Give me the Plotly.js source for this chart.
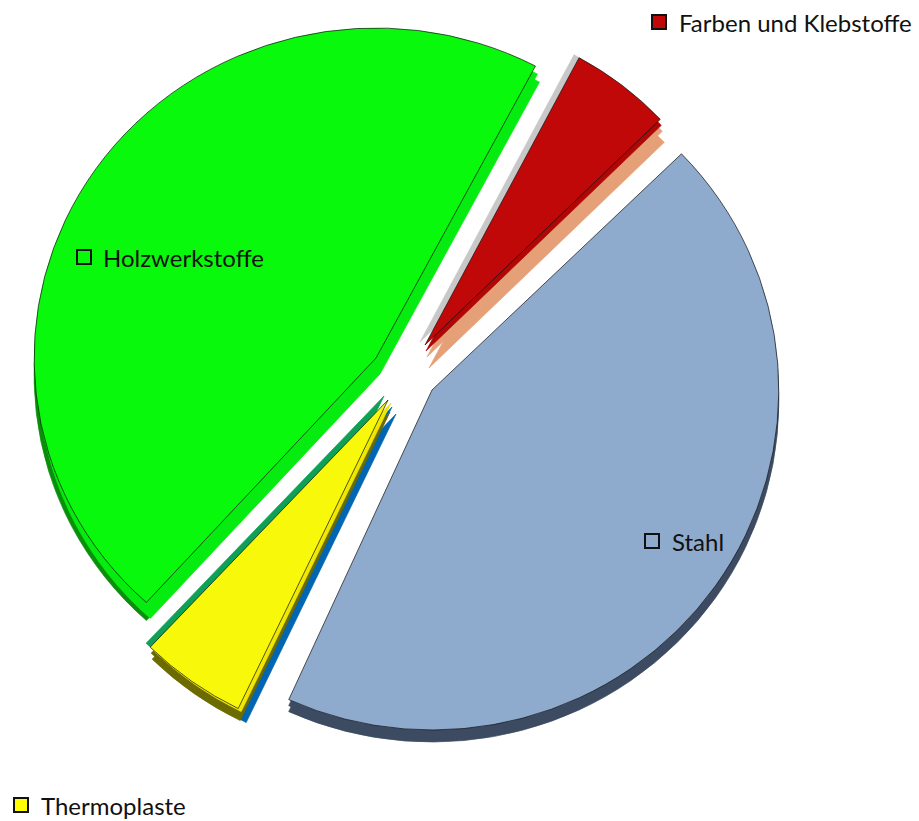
<!DOCTYPE html>
<html><head><meta charset="utf-8">
<script src="https://cdn.plot.ly/plotly-3.0.1.min.js"></script>
<style>html,body{margin:0;padding:0;background:#fff}#c{width:919px;height:821px}</style>
</head><body><div id="c"></div>
<script>
var categories = ['Farben und Klebstoffe','Stahl','Thermoplaste','Holzwerkstoffe'];
var values = [5,44,5,46];
var labelText = ['Farben und Klebstoffe','Stahl','Thermoplaste','Holzwerkstoffe'];
var topColors = ['#c00808','#8eaacd','#f8f80a','#08f90c'];
var labelPx = [[677,22],[670,541],[39,805],[101,257]];
var swatchPx = [[652,15],[645,534],[14,798],[77,250]];
var none = 'rgba(0,0,0,0)';
var swatchFill = ['#c00808',none,'#ffff00',none];
var W=919,H=821;
// one group per slice: centre, radius, horizontal stretch, start angle
var groups = [
  {i:0,ax:425,ay:345,r:326,sx:1,rot:28.2},
  {i:1,ax:432,ay:390,r:340,sx:1.02,rot:28},
  {i:2,ax:388,ay:400,r:343,sx:1,rot:29.5},
  {i:3,ax:376,ay:358,r:330,sx:1.036,rot:27.8}
];
// extruded sides, bottom to top: slice index, colour, offset
var sides = [
  [1,'#3c4b61',0,6],
  [1,'#3c4b61',0,12],
  [3,'#0a8f0a',0,18],
  [3,'#0a8f0a',0,9],
  [3,'#06ec10',4,16],
  [3,'#06ec10',2,8],
  [0,'#e6a077',4,23],
  [0,'#e6a077',2,12],
  [0,'#b00606',1,6],
  [0,'#c8c8c8',-5,-3],
  [2,'#0066b3',8,14],
  [2,'#0066b3',4,7],
  [2,'#6b6b00',2,12],
  [2,'#6b6b00',1,6],
  [2,'#f0e800',3,3],
  [2,'#0fa057',-4,-4]
];
var layers = sides.concat(topColors.map(function(c,i){return [i,c,0,0];}));

var traces = layers.map(function(l){
  var g = groups[l[0]];
  var colors = values.map(function(v,k){return k===l[0]?l[1]:none;});
  var lines = values.map(function(v,k){return k===l[0]?l[1]:none;});
  var x = g.ax+l[2], y = g.ay+l[3];
  if(l[2]===0&&l[3]===0){lines = values.map(function(v,k){return k===l[0]?'#111':none;});}
  return {type:'pie',labels:categories,values:values,sort:false,direction:'clockwise',rotation:g.rot,
    textinfo:'none',hoverinfo:'skip',showlegend:false,
    marker:{colors:colors,line:{color:lines,width:0.7}},
    domain:{x:[(x-g.r)/W,(x+g.r)/W],y:[1-(y+g.r)/H,1-(y-g.r)/H]}};
});
var annotations = labelText.map(function(t,i){
  return {text:t,xref:'paper',yref:'paper',x:labelPx[i][0]/W,y:1-labelPx[i][1]/H,xanchor:'left',yanchor:'middle',showarrow:false,
    font:{family:'Lato, "Open Sans", sans-serif',size:24,color:'#111'}};
});
var shapes = swatchPx.map(function(p,i){
  return {type:'rect',xref:'paper',yref:'paper',x0:p[0]/W,x1:(p[0]+14)/W,y0:1-p[1]/H,y1:1-(p[1]+14)/H,
    fillcolor:swatchFill[i],line:{color:'#111',width:2}};
});
Plotly.newPlot('c',traces,{width:W,height:H,margin:{l:0,r:0,t:0,b:0},paper_bgcolor:'#fff',showlegend:false,annotations:annotations,shapes:shapes},{displayModeBar:false}).then(function(gd){
  var t=gd.querySelectorAll('.pielayer .trace');
  layers.forEach(function(l,n){
    var g=groups[l[0]], x=g.ax+l[2];
    if(t[n]&&g.sx!==1) t[n].setAttribute('transform','translate('+(x*(1-g.sx))+',0) scale('+g.sx+',1)');
  });
});
</script></body></html>
